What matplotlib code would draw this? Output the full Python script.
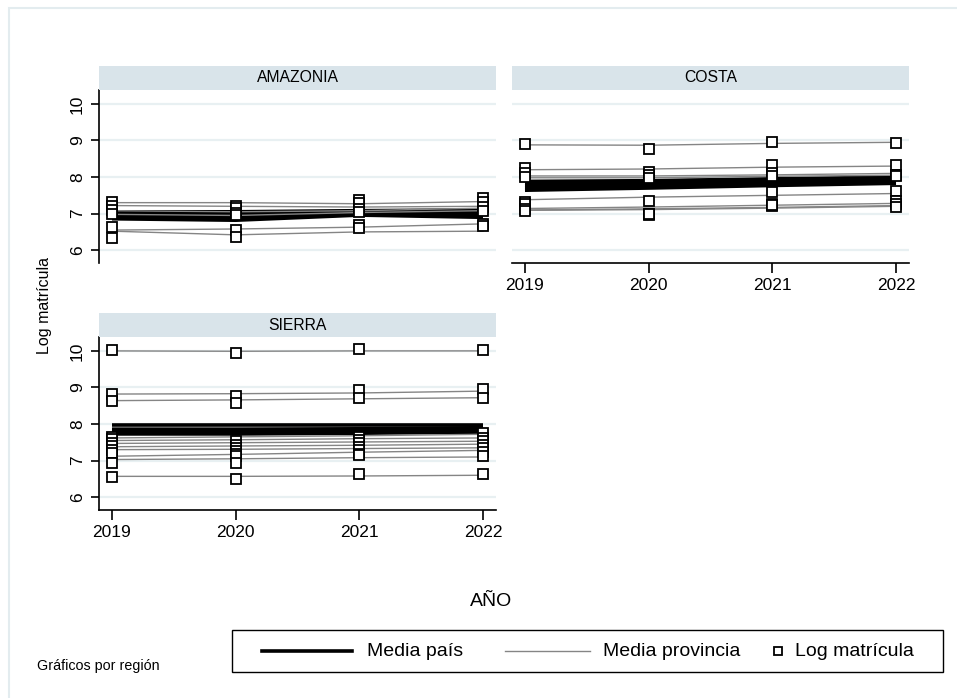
import matplotlib
matplotlib.use("Agg")
import matplotlib.pyplot as plt
from matplotlib.patches import Rectangle
from matplotlib.lines import Line2D

plt.rcParams['font.family'] = ['Liberation Sans', 'DejaVu Sans']

years = [2019, 2020, 2021, 2022]
regions = ["AMAZONIA", "COSTA", "SIERRA"]
yticks = [6, 7, 8, 9, 10]

# ---- AMAZONIA ----
amaz_obs = [
    [7.31, 7.22, 7.38, 7.42],
    [7.21, 7.16, 7.30, 7.32],
    [7.10, 7.02, 7.13, 7.19],
    [7.00, 6.95, 7.05, 7.07],
    [6.64, 6.55, 6.68, 6.72],
    [6.32, 6.35, 6.62, 6.65],
]
amaz_prov = [
    [7.30, 7.30, 7.27, 7.33],
    [7.22, 7.20, 7.18, 7.20],
    [7.08, 7.05, 7.08, 7.15],
    [6.98, 6.95, 7.03, 7.08],
    [6.55, 6.58, 6.63, 6.72],
    [6.52, 6.42, 6.50, 6.52],
]
amaz_pais = [
    [7.05, 7.05, 7.08, 7.10],
    [7.00, 6.98, 7.04, 7.05],
    [6.95, 6.92, 7.00, 7.00],
    [6.90, 6.85, 6.98, 6.95],
    [6.86, 6.82, 6.96, 6.90],
]

# ---- COSTA ----
costa_obs = [
    [8.91, 8.78, 8.95, 8.93],
    [8.25, 8.13, 8.34, 8.34],
    [8.11, 8.05, 8.11, 8.05],
    [8.00, 7.98, 8.02, 8.03],
    [7.32, 7.34, 7.59, 7.61],
    [7.25, 7.00, 7.25, 7.34],
    [7.12, 6.97, 7.22, 7.25],
    [7.08, 7.00, 7.23, 7.18],
]
costa_prov = [
    [8.88, 8.87, 8.92, 8.95],
    [8.20, 8.22, 8.27, 8.30],
    [8.03, 8.03, 8.06, 8.10],
    [7.98, 7.98, 8.02, 8.05],
    [7.38, 7.45, 7.50, 7.55],
    [7.14, 7.18, 7.23, 7.28],
    [7.10, 7.13, 7.17, 7.22],
    [7.09, 7.11, 7.15, 7.20],
]
costa_pais = [
    [7.88, 7.90, 7.95, 8.00],
    [7.82, 7.85, 7.90, 7.95],
    [7.76, 7.80, 7.86, 7.91],
    [7.70, 7.75, 7.82, 7.87],
    [7.64, 7.70, 7.77, 7.83],
]

# ---- SIERRA ----
sierra_obs = [
    [10.03, 9.94, 10.05, 10.02],
    [8.83, 8.78, 8.94, 8.96],
    [8.64, 8.58, 8.71, 8.71],
    [7.65, 7.53, 7.65, 7.76],
    [7.58, 7.44, 7.56, 7.62],
    [7.49, 7.35, 7.47, 7.53],
    [7.40, 7.26, 7.38, 7.44],
    [7.29, 7.17, 7.29, 7.35],
    [7.20, 7.12, 7.17, 7.24],
    [6.94, 6.94, 7.15, 7.14],
    [6.55, 6.51, 6.63, 6.64],
]
sierra_prov = [
    [10.00, 9.99, 10.00, 10.00],
    [8.82, 8.83, 8.85, 8.90],
    [8.64, 8.66, 8.69, 8.72],
    [7.62, 7.65, 7.68, 7.72],
    [7.55, 7.57, 7.60, 7.62],
    [7.47, 7.49, 7.51, 7.53],
    [7.38, 7.40, 7.42, 7.45],
    [7.30, 7.31, 7.33, 7.35],
    [7.12, 7.17, 7.23, 7.28],
    [7.03, 7.05, 7.08, 7.10],
    [6.57, 6.57, 6.58, 6.60],
]
sierra_pais = [
    [7.97, 7.97, 7.97, 7.97],
    [7.86, 7.86, 7.87, 7.90],
    [7.81, 7.81, 7.83, 7.86],
    [7.77, 7.77, 7.79, 7.82],
    [7.73, 7.73, 7.75, 7.78],
]

obs = [amaz_obs, costa_obs, sierra_obs]
prov = [amaz_prov, costa_prov, sierra_prov]
pais = [amaz_pais, costa_pais, sierra_pais]

W, H = 957, 698
fig = plt.figure(figsize=(W / 100, H / 100), dpi=100)
fig.patch.set_facecolor("white")

# outer frame
fig.patches.append(Rectangle((9 / W, -0.05), 1.1, 1 - 8 / H + 0.05, transform=fig.transFigure,
                             fill=False, edgecolor="#e3ecef", linewidth=1.5, zorder=0))

def fr(x0, y0, x1, y1):
    return [x0 / W, 1 - y1 / H, (x1 - x0) / W, (y1 - y0) / H]

panels = [
    (99, 90, 496, 263, True, False),   # AMAZONIA: yaxis, no xaxis
    (512, 90, 909, 263, False, True),  # COSTA: no yaxis, xaxis
    (99, 337, 496, 510, True, True),   # SIERRA: both
]
strip_col = "#d9e4ea"
grid_col = "#e8f0f2"

for i, (x0, y0, x1, y1, showy, showx) in enumerate(panels):
    # strip
    fig.patches.append(Rectangle((x0 / W, 1 - y0 / H), (x1 - x0) / W, 24 / H,
                                 transform=fig.transFigure, facecolor=strip_col,
                                 edgecolor="none", zorder=0))
    fig.text((x0 + x1) / 2 / W, 1 - (y0 - 12) / H, regions[i], ha="center", va="center",
             fontsize=11.3, color="black")
    ax = fig.add_axes(fr(x0, y0, x1, y1))
    ax.set_xlim(2018.895, 2022.105)
    ax.set_ylim(5.65, 10.38)
    for s in ["top", "right"]:
        ax.spines[s].set_visible(False)
    ax.spines["left"].set_visible(showy)
    ax.spines["bottom"].set_visible(showx)
    ax.spines["left"].set_linewidth(1.2)
    ax.spines["bottom"].set_linewidth(1.2)
    ax.set_yticks(yticks)
    ax.set_xticks(years)
    for v in yticks:
        ax.axhline(v, color=grid_col, linewidth=1.6, zorder=0)
    if showy:
        ax.tick_params(axis="y", length=6, width=1.2, pad=4, labelsize=12.5)
        ax.set_yticklabels([str(v) for v in yticks], rotation=90, va="center")
    else:
        ax.tick_params(axis="y", length=0, labelleft=False)
    if showx:
        ax.tick_params(axis="x", length=7, width=1.2, pad=4, labelsize=12.5)
    else:
        ax.tick_params(axis="x", length=0, labelbottom=False)
    for series in pais[i]:
        ax.plot(years, series, color="black", linewidth=2.6, zorder=2, solid_capstyle="butt")
    for series in prov[i]:
        ax.plot(years, series, color="#858585", linewidth=1.0, zorder=3)
    for series in obs[i]:
        ax.plot(years, series, linestyle="none", marker="s", markersize=6.5,
                markerfacecolor="white", markeredgecolor="black", markeredgewidth=1.3, zorder=4)
    ax.set_facecolor("none")

# axis titles
fig.text(45 / W, 1 - 305 / H, "Log matrícula", rotation=90, ha="center", va="center", fontsize=11.5)
fig.text(491 / W, 1 - 601 / H, "AÑO", ha="center", va="center", fontsize=14)
fig.text(37 / W, 1 - 666 / H, "Gráficos por región", ha="left", va="center", fontsize=10.3)

# legend box
lx0, ly0, lx1, ly1 = 232, 630, 943, 672
fig.patches.append(Rectangle((lx0 / W, 1 - ly1 / H), (lx1 - lx0) / W, (ly1 - ly0) / H,
                             transform=fig.transFigure, facecolor="white",
                             edgecolor="black", linewidth=1.0, zorder=1))
yl = 1 - 651 / H
fig.lines.append(Line2D([262 / W, 352 / W], [yl, yl], transform=fig.transFigure,
                        color="black", linewidth=2.6))
fig.text(367 / W, yl, "Media país", ha="left", va="center", fontsize=14)
fig.lines.append(Line2D([505 / W, 590 / W], [yl, yl], transform=fig.transFigure,
                        color="#858585", linewidth=1.0))
fig.text(603 / W, yl, "Media provincia", ha="left", va="center", fontsize=14)
fig.lines.append(Line2D([778 / W], [yl], transform=fig.transFigure, linestyle="none",
                        marker="s", markersize=5.5, markerfacecolor="white",
                        markeredgecolor="black", markeredgewidth=1.3))
fig.text(795 / W, yl, "Log matrícula", ha="left", va="center", fontsize=14)

fig.savefig("out.png", dpi=100, facecolor="white")
